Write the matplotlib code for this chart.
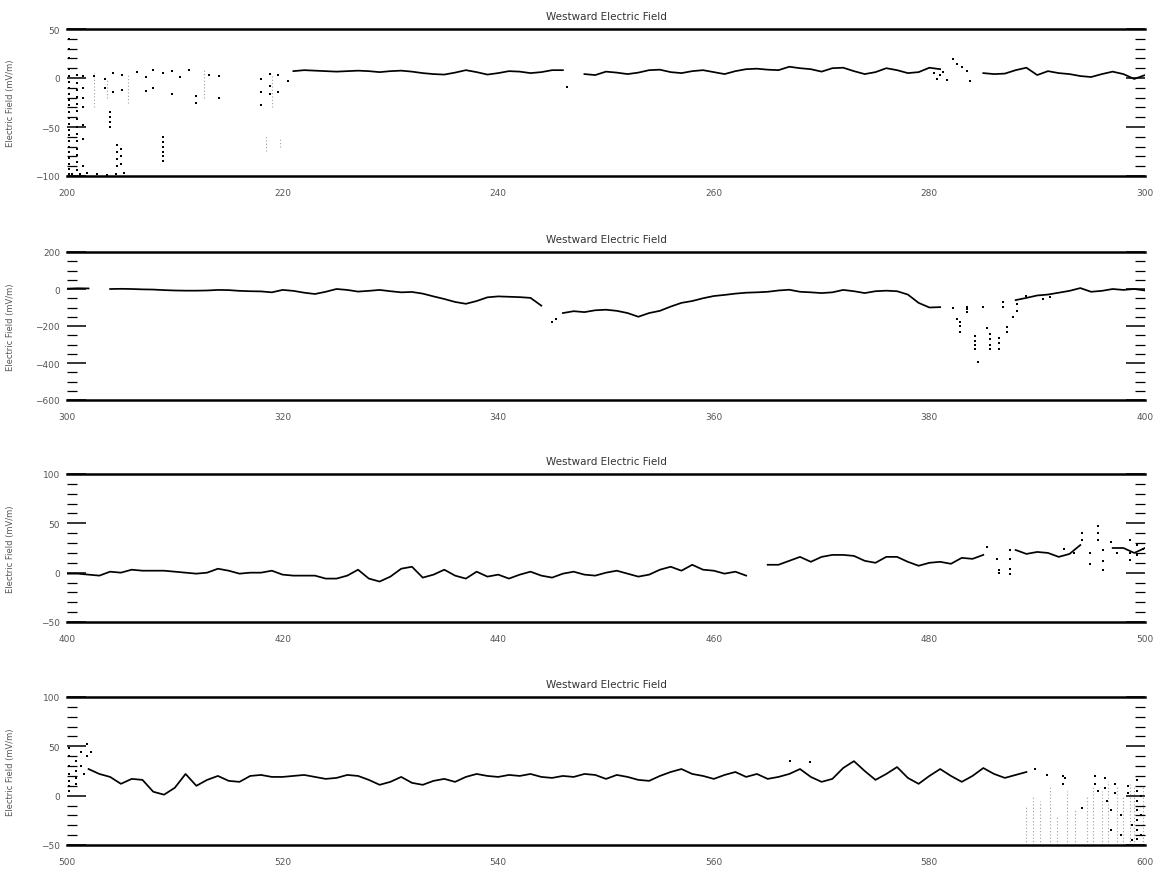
import numpy as np
import matplotlib
matplotlib.use("Agg")
import matplotlib.pyplot as plt
from matplotlib.ticker import MultipleLocator

# ---------------------------------------------------------------- data
title = "Westward Electric Field"
ylabel = "Electric Field (mV/m)"

# Panel 1: 200-300
p1_xlim = (200, 300)
p1_ylim = (-100, 50)
p1_xticks = [200, 220, 240, 260, 280, 300]
p1_yticks = [-100, -50, 0, 50]
p1_line_x = list(range(221, 301))
p1_line_y = [7, 8, 7.5, 7, 6.5, 7, 7.5, 7, 6, 7,
             7.5, 6.5, 5, 4, 3.5, 5.5, 8, 6, 3.5, 5,
             7, 6.5, 5, 6, 8, 8, np.nan, 4, 3, 6.5,
             5.5, 4, 5.5, 8, 8.5, 6, 5, 7, 8, 6,
             4, 7, 9, 9.5, 8.5, 8, 11.5, 10, 9, 6.5,
             10, 10.5, 7, 4, 6, 10, 8, 5, 6, 10.5,
             9, np.nan, np.nan, np.nan, 5, 4, 4.5, 8, 10.5, 3,
             7, 5, 4, 2, 1, 4, 6.5, 4, -1, 3]
p1_dot_x = [200.2] * 22 + [200.9] * 14 + [201.5] * 7 + [
    202.5, 203.5, 203.5, 204.3, 204.3, 205.1, 205.1, 206.5, 207.3, 207.3,
    208.0, 208.0, 208.9, 209.7, 209.7, 210.5, 211.3, 212.0, 212.0, 213.2,
    214.1, 214.1, 218.0, 218.0, 218.0, 218.8, 218.8, 218.8, 219.6, 219.6,
    220.5, 204.0, 204.0, 204.0, 204.0, 204.6, 204.6, 204.6, 204.6, 205.0,
    205.0, 205.0, 208.9, 208.9, 208.9, 208.9, 208.9, 208.9, 200.5, 201.2,
    201.9, 202.8, 203.7, 204.5, 205.3, 246.4,
    280.4, 280.7, 281.0, 281.3, 281.6, 282.2, 282.6, 283.0, 283.5, 283.8]
p1_dot_y = [40, 30, 20, 9, 2, -4, -10, -16, -22, -28, -35, -41, -47, -53,
            -58, -64, -70, -76, -82, -88, -93, -98] + [
    3, -5, -12, -19, -27, -34, -42, -50, -57, -64, -72, -79, -86, -94] + [
    2, -10, -20, -30, -48, -62, -90] + [
    2, -1, -10, 5, -14, 3, -12, 6, 1, -13,
    8, -10, 5, 7, -16, 1, 8, -18, -26, 3,
    2, -20, -1, -14, -28, 4, -8, -16, 3, -14,
    -3, -35, -40, -45, -50, -68, -75, -83, -90, -72,
    -80, -88, -60, -65, -70, -75, -80, -85, -98, -98,
    -97, -98, -99, -98, -97, -9,
    5, -1, 3, 6, -2, 19, 14, 11, 7, -3]
p1_faint_x = [202.5, 203.7, 205.7, 212.7, 218.5, 219.0, 219.8]
p1_faint_lo = [-30, -20, -25, -20, -74, -30, -70]
p1_faint_hi = [5, 0, 3, 8, -58, 3, -60]

# Panel 2: 300-400
p2_xlim = (300, 400)
p2_ylim = (-600, 200)
p2_xticks = [300, 320, 340, 360, 380, 400]
p2_yticks = [-600, -400, -200, 0, 200]
p2_line_x = list(range(300, 401))
p2_line_y = [2, 4, 3, np.nan, 0, 1, 0, -2, -3, -6,
             -8, -9, -9, -8, -5, -6, -10, -12, -13, -18,
             -5, -10, -20, -27, -15, 0, -5, -14, -10, -5,
             -12, -18, -16, -25, -40, -54, -70, -80, -65, -45,
             -40, -42, -44, -48, -90, np.nan, -130, -120, -125, -115,
             -112, -118, -130, -150, -130, -118, -95, -75, -65, -50,
             -38, -32, -25, -20, -18, -15, -8, -4, -15, -18,
             -22, -18, -5, -12, -22, -12, -9, -12, -30, -75,
             -100, -98, np.nan, np.nan, np.nan, np.nan, np.nan, np.nan, -60, -48,
             -35, -30, -20, -10, 5, -15, -10, 0, -5, 0,
             -8]
p2_dot_x = [345.0, 345.4, 382.2, 382.6, 382.8, 382.8, 382.8, 383.5, 383.5, 383.5,
            384.2, 384.2, 384.2, 384.2, 384.5, 385.0, 385.3, 385.6, 385.6, 385.6,
            385.6, 386.5, 386.5, 386.5, 386.8, 386.8, 387.2, 387.2, 387.8, 388.1,
            388.1, 389.0, 390.5, 391.2]
p2_dot_y = [-180, -160, -100, -162, -180, -200, -230, -95, -110, -123,
            -255, -280, -300, -324, -395, -95, -210, -243, -270, -300,
            -326, -265, -290, -324, -70, -97, -205, -232, -151, -83,
            -119, -40, -55, -45]

# Panel 3: 400-500
p3_xlim = (400, 500)
p3_ylim = (-50, 100)
p3_xticks = [400, 420, 440, 460, 480, 500]
p3_yticks = [-50, 0, 50, 100]
p3_line_x = list(range(400, 501))
p3_line_y = [-1, -1, -2, -3, 1, 0, 3, 2, 2, 2,
             1, 0, -1, 0, 4, 2, -1, 0, 0, 2,
             -2, -3, -3, -3, -6, -6, -3, 3, -6, -9,
             -4, 4, 6, -5, -2, 3, -3, -6, 1, -4,
             -2, -6, -2, 1, -3, -5, -1, 1, -2, -3,
             0, 2, -1, -4, -2, 3, 6, 2, 8, 3,
             2, -1, 1, -3, np.nan, 8, 8, 12, 16, 11,
             16, 18, 18, 17, 12, 10, 16, 16, 11, 7,
             10, 11, 9, 15, 14, 18, np.nan, np.nan, 23, 19,
             21, 20, 16, 19, 28, np.nan, np.nan, 25, 25, 20,
             25]
p3_dot_x = [485.3, 486.3, 486.5, 486.5, 487.5, 487.5, 487.5, 487.5, 494.2, 494.2,
            494.9, 494.9, 495.6, 495.6, 495.6, 496.1, 496.1, 496.1, 496.8, 497.4,
            498.6, 498.6, 498.6, 499.3, 499.3, 499.8, 493.4, 492.5]
p3_dot_y = [26, 14, 3, 0, 23, 14, 4, -1, 40, 33,
            20, 9, 47, 40, 33, 23, 12, 3, 31, 20,
            33, 20, 13, 28, 18, 24, 20, 24]

# Panel 4: 500-600
p4_xlim = (500, 600)
p4_ylim = (-50, 100)
p4_xticks = [500, 520, 540, 560, 580, 600]
p4_yticks = [-50, 0, 50, 100]
p4_line_x = list(range(502, 591))
p4_line_y = [27, 22, 19, 12, 17, 16, 4, 1, 8, 22,
             10, 16, 20, 15, 14, 20, 21, 19, 19, 20,
             21, 19, 17, 18, 21, 20, 16, 11, 14, 19,
             13, 11, 15, 17, 14, 19, 22, 20, 19, 21,
             20, 22, 19, 18, 20, 19, 22, 21, 17, 21,
             19, 16, 15, 20, 24, 27, 22, 20, 17, 21,
             24, 19, 22, 17, 19, 22, 27, 19, 14, 17,
             28, 35, 25, 16, 22, 29, 18, 12, 20, 27,
             20, 14, 20, 28, 22, 18, 21, 24, np.nan]
p4_dot_x = [500.2, 500.2, 500.2, 500.2, 500.2, 500.2, 500.2, 500.8, 500.8, 500.8,
            500.8, 501.3, 501.3, 501.6, 501.9, 501.9, 502.2, 567.1, 568.9,
            589.8, 590.9, 592.4, 592.4, 592.6, 594.2, 595.4, 595.4, 595.6, 596.3,
            596.3, 596.5, 597.2, 597.2, 598.4, 598.4, 599.3, 599.3, 599.3, 599.3,
            599.3, 599.3, 599.3, 599.6, 599.6, 599.6, 598.8, 598.8, 597.8, 597.8,
            596.8, 596.8]
p4_dot_y = [48, 40, 30, 22, 15, 10, 5, 35, 25, 18,
            12, 44, 30, 22, 52, 40, 44, 35, 34,
            27, 21, 20, 12, 18, -12, 20, 12, 5, 18,
            8, -5, 12, 3, 10, 3, 16, 5, -5, -15,
            -25, -35, -44, 0, -20, -40, -30, -45, -20, -40,
            -15, -35]
p4_faint_x = [589.0, 589.6, 590.3, 591.2, 591.8, 592.8, 593.5, 594.6,
              595.2, 596.0, 596.6, 597.4, 598.0, 598.6, 599.0, 599.8]
p4_faint_hi = [-10, 0, -5, 10, -20, 5, -15, 0,
               10, 5, 15, 10, 0, 12, 10, 10]

panels = [
    dict(xlim=p1_xlim, ylim=p1_ylim, xticks=p1_xticks, yticks=p1_yticks,
         minor=10, lx=p1_line_x, ly=p1_line_y, dx=p1_dot_x, dy=p1_dot_y,
         fx=p1_faint_x, flo=p1_faint_lo, fhi=p1_faint_hi),
    dict(xlim=p2_xlim, ylim=p2_ylim, xticks=p2_xticks, yticks=p2_yticks,
         minor=50, lx=p2_line_x, ly=p2_line_y, dx=p2_dot_x, dy=p2_dot_y),
    dict(xlim=p3_xlim, ylim=p3_ylim, xticks=p3_xticks, yticks=p3_yticks,
         minor=10, lx=p3_line_x, ly=p3_line_y, dx=p3_dot_x, dy=p3_dot_y),
    dict(xlim=p4_xlim, ylim=p4_ylim, xticks=p4_xticks, yticks=p4_yticks,
         minor=10, lx=p4_line_x, ly=p4_line_y, dx=p4_dot_x, dy=p4_dot_y,
         fx=p4_faint_x, flo=[-50] * len(p4_faint_x), fhi=p4_faint_hi),
]

# ---------------------------------------------------------------- layout
W, H = 1161, 870
fig = plt.figure(figsize=(W / 100, H / 100), dpi=100, facecolor="white")

left_px, right_px = 67, 1145
boxes = [(30, 177), (253, 401), (475, 623), (698, 846)]

label_color = "#555555"

for p, (top_px, bot_px) in zip(panels, boxes):
    ax = fig.add_axes([left_px / W, 1 - bot_px / H,
                       (right_px - left_px) / W, (bot_px - top_px) / H])
    ax.set_xlim(*p["xlim"])
    ax.set_ylim(*p["ylim"])

    if "fx" in p:
        ax.vlines(p["fx"], p["flo"], p["fhi"], colors="#a0a0a0",
                  linestyles=(0, (1, 2)), linewidth=0.8, zorder=1)
    ax.plot(p["lx"], p["ly"], color="black", linewidth=1.25, zorder=3)
    ax.scatter(p["dx"], p["dy"], s=3, color="black", marker="s",
               linewidths=0, zorder=3, clip_on=False)

    ax.set_title(title, fontsize=7.5, color="#333333", pad=7)
    ax.set_ylabel(ylabel, fontsize=6, color=label_color)
    ax.yaxis.set_label_coords(-0.048, 0.5)

    ax.set_xticks(p["xticks"])
    ax.set_yticks(p["yticks"])
    ax.yaxis.set_minor_locator(MultipleLocator(p["minor"]))
    ax.tick_params(axis="x", which="both", length=0, pad=9,
                   labelsize=6.5, labelcolor=label_color)
    ax.tick_params(axis="y", which="major", direction="in", length=14,
                   width=1.1, left=True, right=True, pad=5,
                   labelsize=6.5, labelcolor=label_color)
    ax.tick_params(axis="y", which="minor", direction="in", length=7,
                   width=0.9, left=True, right=True)

    for side in ("top", "bottom"):
        ax.spines[side].set_linewidth(1.8)
        ax.spines[side].set_color("black")
    for side in ("left", "right"):
        ax.spines[side].set_visible(False)

fig.savefig("out.png", dpi=100, facecolor="white")
